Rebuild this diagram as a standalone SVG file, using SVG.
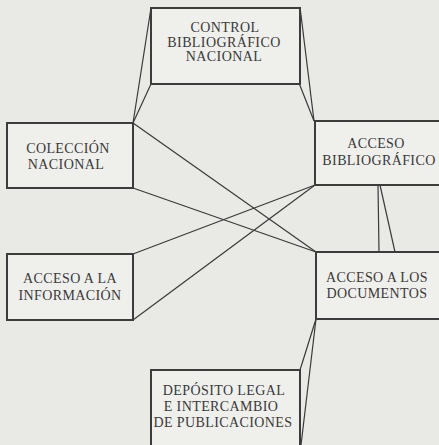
<svg xmlns="http://www.w3.org/2000/svg" width="439" height="445" viewBox="0 0 439 445">
<style>
.bx{fill:#efefec;stroke:#3c3c3c;stroke-width:2}
.ln{stroke:#3a3a3a;stroke-width:1.2;fill:none}
.t{font-family:"Liberation Serif","DejaVu Serif",serif;font-size:14px;fill:#3a3a3a;text-anchor:middle;letter-spacing:0.4px}
</style>
<rect width="439" height="445" fill="#e9e9e6"/>
<g id="connectors">
<line class="ln" x1="151" y1="8" x2="133" y2="123"/>
<line class="ln" x1="151" y1="84" x2="133" y2="123"/>
<line class="ln" x1="300" y1="7" x2="314" y2="121"/>
<line class="ln" x1="299" y1="83" x2="314" y2="121"/>
<line class="ln" x1="133" y1="123" x2="316" y2="252"/>
<line class="ln" x1="133" y1="188" x2="316" y2="252"/>
<line class="ln" x1="133" y1="254" x2="315" y2="185"/>
<line class="ln" x1="133" y1="320" x2="315" y2="185"/>
<line class="ln" x1="378" y1="185" x2="379" y2="252"/>
<line class="ln" x1="380" y1="185" x2="395" y2="252"/>
<line class="ln" x1="300" y1="370" x2="316" y2="319"/>
<line class="ln" x1="301" y1="445" x2="316" y2="319"/>
</g>
<g id="control">
<rect class="bx" x="151" y="8" width="149" height="76"/>
<text class="t" x="225" y="32">CONTROL</text>
<text class="t" x="224" y="47">BIBLIOGRÁFICO</text>
<text class="t" x="224" y="61">NACIONAL</text>
</g>
<g id="coleccion">
<rect class="bx" x="7" y="123" width="126" height="65"/>
<text class="t" x="68" y="153">COLECCIÓN</text>
<text class="t" x="66" y="169">NACIONAL</text>
</g>
<g id="acceso-biblio">
<rect class="bx" x="315" y="121" width="130" height="64"/>
<text class="t" x="376" y="148">ACCESO</text>
<text class="t" x="379" y="165">BIBLIOGRÁFICO</text>
</g>
<g id="acceso-info">
<rect class="bx" x="7" y="254" width="126" height="66"/>
<text class="t" x="70" y="283">ACCESO A LA</text>
<text class="t" x="70" y="300">INFORMACIÓN</text>
</g>
<g id="acceso-doc">
<rect class="bx" x="316" y="252" width="130" height="67"/>
<text class="t" x="377" y="282">ACCESO A LOS</text>
<text class="t" x="377" y="298">DOCUMENTOS</text>
</g>
<g id="deposito">
<rect class="bx" x="151" y="370" width="149" height="85"/>
<text class="t" x="224" y="395">DEPÓSITO LEGAL</text>
<text class="t" x="221" y="411">E INTERCAMBIO</text>
<text class="t" x="223" y="427">DE PUBLICACIONES</text>
</g>
</svg>
